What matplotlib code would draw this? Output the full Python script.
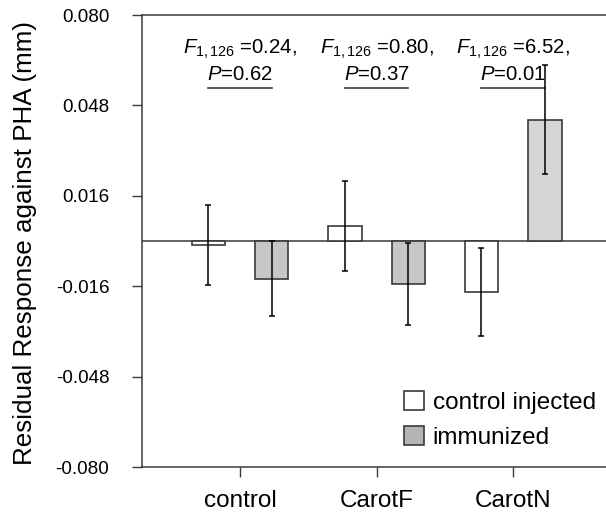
import matplotlib
matplotlib.use("Agg")
import matplotlib.pyplot as plt
from matplotlib.patches import Patch
import numpy as np

plt.rcParams["font.family"] = ["Liberation Sans", "DejaVu Sans"]
plt.rcParams["mathtext.fontset"] = "custom"
plt.rcParams["mathtext.rm"] = "Liberation Sans"
plt.rcParams["mathtext.it"] = "Liberation Sans:italic"

## data
groups = ["control", "CarotF", "CarotN"]
ctrl_inj = [-0.0014, 0.0053, -0.0180]
ctrl_inj_err = [0.0142, 0.0160, 0.0155]
immunized = [-0.0133, -0.0152, 0.0430]
immunized_err = [0.0133, 0.0146, 0.0193]
imm_colors = ["#c6c6c6", "#c6c6c6", "#d6d6d6"]
f_text = ["0.24", "0.80", "6.52"]
p_text = ["0.62", "0.37", "0.01"]

x = np.arange(len(groups))
w = 0.245
off = 0.232
edge = "#3a3a3a"

fig = plt.figure(figsize=(6.06, 5.14), dpi=100)
ax = fig.add_axes([0.2343, 0.0914, 0.7657, 0.8794])

ax.bar(x - off, ctrl_inj, w, color="white", edgecolor=edge, linewidth=1.2, zorder=2)
ax.bar(x + off, immunized, w, color=imm_colors, edgecolor=edge, linewidth=1.2, zorder=2)
ax.errorbar(x - off, ctrl_inj, yerr=ctrl_inj_err, fmt="none", ecolor="black",
            elinewidth=1.1, capsize=2.5, capthick=1.1, zorder=3)
ax.errorbar(x + off, immunized, yerr=immunized_err, fmt="none", ecolor="black",
            elinewidth=1.1, capsize=2.5, capthick=1.1, zorder=3)
ax.axhline(0, color=edge, linewidth=1.1, zorder=1)

# stats annotations
for i in range(len(groups)):
    ax.text(x[i], 0.0680, r"$F_{\mathit{1,126}}$" + " =" + f_text[i] + ",", ha="center", va="center", fontsize=14.7)
    ax.text(x[i], 0.0590, r"$P$" + "=" + p_text[i], ha="center", va="center", fontsize=14.7)
    ax.plot([x[i] - off, x[i] + off], [0.0540, 0.0540], color=edge, linewidth=1.2)

ax.set_xlim(-0.718, 2.68)
ax.set_ylim(-0.080, 0.080)
ax.set_yticks([-0.080, -0.048, -0.016, 0.016, 0.048, 0.080])
ax.set_yticklabels(["-0.080", "-0.048", "-0.016", "0.016", "0.048", "0.080"])
ax.set_xticks(x)
ax.set_xticklabels(groups)
ax.tick_params(axis="both", direction="out", length=7.5, width=1, color=edge)
ax.tick_params(axis="y", labelsize=13.6, pad=16)
ax.tick_params(axis="x", labelsize=17.5, pad=9)
fig.text(25 / 606, 1 - 243 / 514, "Residual Response against PHA (mm)", rotation=90,
         ha="center", va="center", fontsize=18.7)
for s in ["left", "bottom", "top"]:
    ax.spines[s].set_color(edge)
    ax.spines[s].set_linewidth(1.1)
ax.spines["right"].set_visible(False)

handles = [Patch(facecolor="white", edgecolor=edge, linewidth=1.2, label="control injected"),
           Patch(facecolor="#b4b4b4", edgecolor=edge, linewidth=1.2, label="immunized")]
ax.legend(handles=handles, loc="lower right", bbox_to_anchor=(0.978, 0.04), bbox_transform=ax.transAxes,
          frameon=False, borderpad=0, borderaxespad=0, fontsize=17.5, handlelength=0.85,
          handleheight=0.85, handletextpad=0.35, labelspacing=0.5)

plt.savefig("out.png", dpi=100)
